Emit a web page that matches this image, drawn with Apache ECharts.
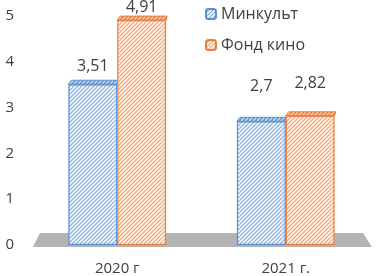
<!DOCTYPE html>
<html><head><meta charset="utf-8">
<script src="https://cdn.jsdelivr.net/npm/echarts@6/dist/echarts.min.js"></script>
<style>html,body{margin:0;padding:0;background:#fff}#c{width:384px;height:276px}</style>
</head><body><div id="c"></div>
<script>
var categories = ['2020 г', '2021 г.'];
var minkult = [3.51, 2.7];
var fondKino = [4.91, 2.82];
var seriesNames = ['Минкульт', 'Фонд кино'];

function hatch(line, bg) {
  var c = document.createElement('canvas');
  c.width = 4; c.height = 4;
  var g = c.getContext('2d');
  g.fillStyle = bg; g.fillRect(0, 0, 4, 4);
  g.strokeStyle = line; g.lineWidth = 1.3;
  g.beginPath();
  g.moveTo(-1, 5); g.lineTo(5, -1);
  g.moveTo(-1, 1); g.lineTo(1, -1);
  g.moveTo(3, 5); g.lineTo(5, 3);
  g.stroke();
  return {image: c, repeat: 'repeat'};
}
var blueFill = hatch('#8fb4e3', '#ffffff');
var orangeFill = hatch('#f3a878', '#ffffff');
var blueTop = hatch('#5b8fd0', '#c9dcf3');
var orangeTop = hatch('#e07a3c', '#f8d3bb');

var FONT = 'Open Sans';
var chart = echarts.init(document.getElementById('c'));
var BW = 0.29;

function fmt(p) { return String(p.value).replace('.', ','); }
function items(arr, dist) {
  return arr.map(function (v, i) { return {value: v, label: {distance: dist[i]}}; });
}

function topFace(offsetSide, fill, stroke) {
  return function (params, api) {
    var idx = api.value(0), val = api.value(1);
    var p = api.coord([idx, val]);
    var w = api.size([1, 0])[0] * BW;
    var x0 = offsetSide === 0 ? p[0] - w : p[0];
    var x1 = x0 + w;
    var y = p[1];
    return {
      type: 'polygon',
      shape: {points: [[x0, y], [x0 + 3, y - 4], [x1 + 1, y - 4], [x1, y]]},
      style: {fill: fill, stroke: stroke, lineWidth: 1}
    };
  };
}

chart.setOption({
  animation: false,
  textStyle: {fontFamily: FONT},
  grid: {left: 33, right: 14, top: 16, bottom: 26},
  legend: {
    orient: 'vertical', left: 200, top: 1, itemGap: 15,
    itemWidth: 10, itemHeight: 10,
    data: seriesNames,
    textStyle: {fontSize: 16, color: '#404040', fontFamily: FONT}
  },
  xAxis: {
    type: 'category', data: categories,
    axisLine: {show: false}, axisTick: {show: false},
    axisLabel: {fontSize: 15, color: '#404040', margin: 16}
  },
  yAxis: {
    type: 'value', min: 0, max: 5, interval: 1,
    axisLine: {show: false}, axisTick: {show: false}, splitLine: {show: false},
    axisLabel: {fontSize: 15, color: '#404040', margin: 19}
  },
  series: [
    {
      type: 'custom', silent: true, z: 0,
      data: [[0, 0]],
      renderItem: function (params, api) {
        var cs = params.coordSys;
        var yb = cs.y + cs.height;
        return {
          type: 'polygon',
          shape: {points: [[cs.x, yb + 2], [cs.x + 7, yb - 12], [cs.x + cs.width - 7, yb - 12], [cs.x + cs.width + 2, yb + 2]]},
          style: {fill: '#b3b3b3'}
        };
      }
    },
    {
      name: seriesNames[0], type: 'bar', data: items(minkult, [10, 27]), z: 2,
      barWidth: (BW * 100) + '%', barGap: '0%',
      itemStyle: {color: blueFill, borderColor: '#5b8fd0', borderWidth: 1.2},
      label: {show: true, position: 'top', fontSize: 16, color: '#404040', formatter: fmt}
    },
    {
      name: seriesNames[1], type: 'bar', data: items(fondKino, [5, 24]), z: 2,
      barWidth: (BW * 100) + '%', barGap: '0%',
      itemStyle: {color: orangeFill, borderColor: '#e8803f', borderWidth: 1.2},
      label: {show: true, position: 'top', fontSize: 16, color: '#404040', formatter: fmt}
    },
    {
      type: 'custom', silent: true, z: 1,
      data: minkult.map(function (v, i) { return [i, v]; }),
      renderItem: topFace(0, blueTop, '#5b8fd0')
    },
    {
      type: 'custom', silent: true, z: 1,
      data: fondKino.map(function (v, i) { return [i, v]; }),
      renderItem: topFace(1, orangeTop, '#e07a3c')
    }
  ]
});
</script></body></html>
